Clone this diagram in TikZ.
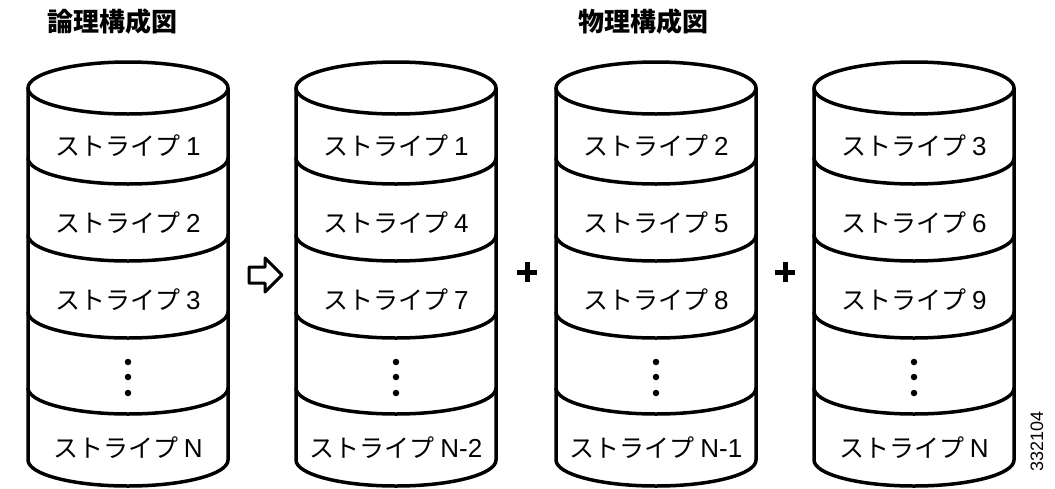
\documentclass[tikz,border=0pt]{standalone}
\usepackage{fontspec}
\setmainfont{Noto Sans CJK JP}
\newfontfamily\numfont{Liberation Sans}
\tikzset{
  cylline/.style={line width=3.5pt, line cap=round, line join=round},
  lbl/.style={font=\fontsize{25}{30}\selectfont, inner sep=0pt},
  ttl/.style={font=\fontsize{26}{30}\selectfont\bfseries, inner sep=0pt},
  pdot/.style={fill=black, circle, inner sep=0pt, minimum size=6.5pt},
  plusline/.style={line width=5pt},
  hollowarrow/.style={line width=3pt, line join=round},
}
\newcommand\nm[1]{{\numfont\fontsize{26}{30}\selectfont #1}}
\newcommand\drawcyl[6]{%
  \draw[cylline] (#1-100,88) -- (#1-100,460) arc[start angle=180,end angle=360,x radius=100pt,y radius=26pt] -- (#1+100,88);
  \draw[cylline] (#1,88) ellipse[x radius=100pt,y radius=26pt];
  \foreach \yy in {158,235,312,388}
    \draw[cylline] (#1-100,\yy) arc[start angle=180,end angle=360,x radius=100pt,y radius=26pt];
  \node[lbl] (#2a) at (#1,146) {ストライプ \nm{#3}};
  \node[lbl] (#2b) at (#1,223) {ストライプ \nm{#4}};
  \node[lbl] (#2c) at (#1,300) {ストライプ \nm{#5}};
  \node[pdot] (#2d1) at (#1,362) {};
  \node[pdot] (#2d2) at (#1,377) {};
  \node[pdot] (#2d3) at (#1,393) {};
  \node[lbl] (#2e) at (#1,448) {ストライプ \nm{#6}};
}
\begin{document}
\begin{tikzpicture}[x=1pt,y=-1pt]
  \fill[white] (0,0) rectangle (1055,488);
  \useasboundingbox (0,0) rectangle (1055,488);
  \node[ttl] (tlog) at (112,22) {論理構成図};
  \node[ttl] (tphy) at (643,22) {物理構成図};
  \drawcyl{128}{ca}{1}{2}{3}{N}
  \drawcyl{396}{cb}{1}{4}{7}{N-2}
  \drawcyl{656}{cc}{2}{5}{8}{N-1}
  \drawcyl{914}{cd}{3}{6}{9}{N}
  % hollow arrow
  \draw[hollowarrow] (249,267) -- (265,267) -- (265,258) -- (282,275) -- (265,292) -- (265,283) -- (249,283) -- cycle;
  % plus signs
  \draw[plusline] (527,262) -- (527,282) (517,272) -- (537,272);
  \draw[plusline] (785,262) -- (785,282) (775,272) -- (795,272);
  \node[rotate=90, inner sep=0pt, font=\numfont\fontsize{18}{20}\selectfont] (fig) at (1037,441) {332104};
\end{tikzpicture}
\end{document}
